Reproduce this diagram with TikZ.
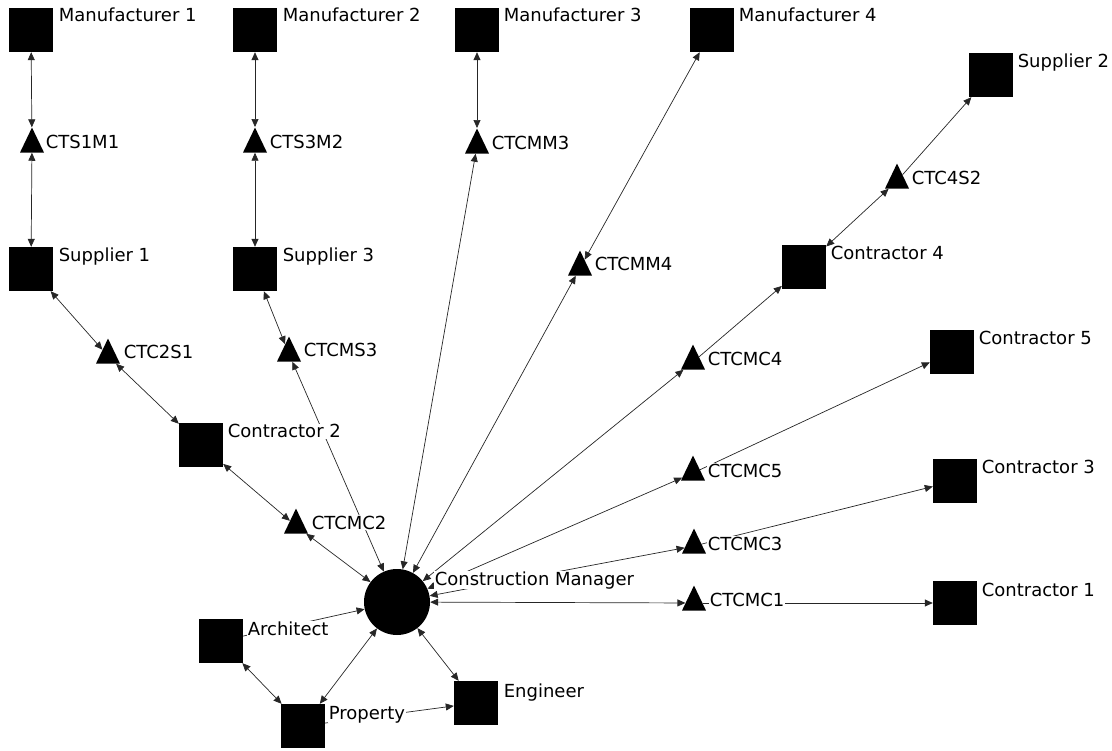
\documentclass[tikz,border=0pt]{standalone}
\usepackage{fontspec}
\setmainfont{DejaVu Sans}
\usetikzlibrary{shapes.geometric,arrows.meta}
\begin{document}
\begin{tikzpicture}[x=1pt,y=-1pt,
  sq/.style={rectangle,fill=black,minimum size=44pt,inner sep=0pt},
  tri/.style={isosceles triangle,isosceles triangle stretches,shape border rotate=90,fill=black,minimum width=24pt,minimum height=25pt,inner sep=0pt},
  hub/.style={circle,fill=black,minimum size=66pt,inner sep=0pt},
  lbl/.style={anchor=base west,fill=white,inner sep=0.6pt,font=\fontsize{18}{20}\selectfont},
  link/.style={draw=black!85,line width=0.7pt,{Triangle[length=8pt,width=7pt]}-{Triangle[length=8pt,width=7pt]}},
  onelink/.style={draw=black!85,line width=0.7pt,-{Triangle[length=8pt,width=7pt]}}
]
\useasboundingbox (0,0) rectangle (1112,751);
% nodes
\node[sq] (M1) at (31,30) {};
\node[sq] (M2) at (255,30) {};
\node[sq] (M3) at (477,30) {};
\node[sq] (M4) at (712,30) {};
\node[sq] (S2) at (991,75) {};
\node[tri] (T1) at (32,145) {};
\node[tri] (T2) at (255,145) {};
\node[tri] (TM3) at (477,146) {};
\node[tri] (TM4) at (580,268) {};
\node[tri] (T4S2) at (897,181) {};
\node[sq] (S1) at (31,269) {};
\node[sq] (S3) at (255,269) {};
\node[sq] (C4) at (804,267) {};
\node[tri] (TC2S1) at (108,356) {};
\node[tri] (TMS3) at (289,354) {};
\node[tri] (TC4) at (693,362) {};
\node[sq] (C5) at (952,352) {};
\node[sq] (C2) at (201,445) {};
\node[tri] (TC5) at (693,473) {};
\node[sq] (C3) at (955,481) {};
\node[tri] (TC2) at (296,526) {};
\node[tri] (TC3) at (694,546) {};
\node[hub] (CM) at (397,602) {};
\node[tri] (TC1) at (694,603) {};
\node[sq] (C1) at (955,603) {};
\node[sq] (Arch) at (221,641) {};
\node[sq] (Eng) at (476,703) {};
\node[sq] (Prop) at (303,726) {};
% connectors
\draw[link] (M1) -- (T1);
\draw[link] (T1) -- (S1);
\draw[link] (M2) -- (T2);
\draw[link] (T2) -- (S3);
\draw[link] (M3) -- (TM3);
\draw[link] (TM3) -- (CM);
\draw[link] (M4) -- (TM4);
\draw[link] (TM4) -- (CM);
\draw[onelink] (T4S2) -- (S2);
\draw[link] (T4S2) -- (C4);
\draw[onelink] (TC4) -- (C4);
\draw[link] (TC4) -- (CM);
\draw[link] (S1) -- (TC2S1);
\draw[link] (TC2S1) -- (C2);
\draw[link] (S3) -- (TMS3);
\draw[link] (TMS3) -- (CM);
\draw[link] (C2) -- (TC2);
\draw[link] (TC2) -- (CM);
\draw[link] (CM) -- (TC5);
\draw[onelink] (TC5) -- (C5);
\draw[link] (CM) -- (TC3);
\draw[onelink] (TC3) -- (C3);
\draw[link] (CM) -- (TC1);
\draw[onelink] (TC1) -- (C1);
\draw[onelink] (Arch) -- (CM);
\draw[link] (Arch) -- (Prop);
\draw[link] (Prop) -- (CM);
\draw[onelink] (Prop) -- (Eng);
\draw[link] (Eng) -- (CM);
% labels
\node[lbl] (lM1) at (58,22) {Manufacturer 1};
\node[lbl] (lM2) at (282,22) {Manufacturer 2};
\node[lbl] (lM3) at (503,22) {Manufacturer 3};
\node[lbl] (lM4) at (738,22) {Manufacturer 4};
\node[lbl] (lS2) at (1017,68) {Supplier 2};
\node[lbl] (lT1) at (45,149) {CTS1M1};
\node[lbl] (lT2) at (269,149) {CTS3M2};
\node[lbl] (lTM3) at (491,150) {CTCMM3};
\node[lbl] (lTM4) at (594,271) {CTCMM4};
\node[lbl] (lT4S2) at (911,185) {CTC4S2};
\node[lbl] (lS1) at (58,262) {Supplier 1};
\node[lbl] (lS3) at (282,262) {Supplier 3};
\node[lbl] (lC4) at (830,260) {Contractor 4};
\node[lbl] (lTC2S1) at (123,359) {CTC2S1};
\node[lbl] (lTMS3) at (303,357) {CTCMS3};
\node[lbl] (lC2) at (227,438) {Contractor 2};
\node[lbl] (lTC2) at (311,529) {CTCMC2};
\node[lbl] (lTC4) at (707,366) {CTCMC4};
\node[lbl] (lC5) at (978,345) {Contractor 5};
\node[lbl] (lTC5) at (707,477) {CTCMC5};
\node[lbl] (lC3) at (981,474) {Contractor 3};
\node[lbl] (lTC3) at (707,550) {CTCMC3};
\node[lbl] (lTC1) at (709,606) {CTCMC1};
\node[lbl] (lC1) at (981,596) {Contractor 1};
\node[lbl] (lCM) at (434,585) {Construction Manager};
\node[lbl] (lArch) at (247,635) {Architect};
\node[lbl] (lEng) at (503,697) {Engineer};
\node[lbl] (lProp) at (328,719) {Property};
\end{tikzpicture}
\end{document}
